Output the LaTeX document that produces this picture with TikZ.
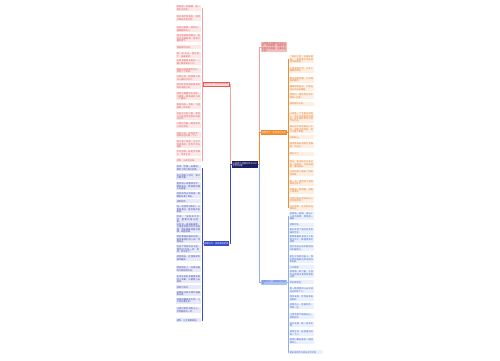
\documentclass[tikz,border=0pt]{standalone}
\usepackage{fontspec}
\newfontfamily\cjk{Noto Sans CJK SC}
\XeTeXlinebreaklocale "zh"
\XeTeXlinebreakskip = 0pt plus 1pt
\definecolor{pinkL}{HTML}{FCE8E8}
\definecolor{pinkT}{HTML}{E05A5A}
\definecolor{pinkB}{HTML}{FBD3D3}
\definecolor{pinkLine}{HTML}{EFA3A3}
\definecolor{blueL}{HTML}{E7E9F8}
\definecolor{blueT}{HTML}{3A47B0}
\definecolor{blueB}{HTML}{3B4CC8}
\definecolor{orL}{HTML}{FDEFE3}
\definecolor{orT}{HTML}{E67A28}
\definecolor{orB}{HTML}{F28A2E}
\definecolor{ltL}{HTML}{EAF0FC}
\definecolor{ltT}{HTML}{3E68C8}
\definecolor{ltB}{HTML}{A9C2F2}
\definecolor{ltLine}{HTML}{8FAEEA}
\definecolor{navy}{HTML}{1C1F5E}
\tikzset{
  leaf/.style={anchor=north west, inner sep=0.6bp, text width=24bp, align=left,
    font=\cjk\fontsize{2.2}{2.45}\selectfont},
  pinkleaf/.style={leaf, fill=pinkL, text=pinkT},
  blueleaf/.style={leaf, fill=blueL, text=blueT},
  orleaf/.style={leaf, fill=orL, text=orT},
  ltleaf/.style={leaf, fill=ltL, text=ltT},
  branch/.style={inner sep=0.6bp, text width=24.5bp, align=left,
    font=\cjk\fontsize{2.2}{2.45}\selectfont},
  conn/.style={line width=0.5bp},
}
\begin{document}
\begin{tikzpicture}[x=1bp,y=-1bp]
\useasboundingbox[fill=white] (0,0) rectangle (500,360);

% centre
\node[branch, fill=navy, text=white, minimum height=7bp, text width=24.8bp] (c) at (245,164.5)
  {以感恩为话题的作文800字范文8篇};

% branches
\node[branch, fill=pinkB, draw=pinkT, line width=0.4bp, text=pinkT, minimum height=4.4bp] (b1) at (216.5,84)
  {感恩作文：感恩母亲的爱};
\node[branch, fill=blueB, text=white, minimum height=4.6bp] (b2) at (216.5,243.5)
  {感恩作文：感恩我的老师};
\node[branch, fill=pinkB!80!pinkT, text=pinkT!80!black, minimum height=10bp] (r1) at (274,47)
  {以感恩为话题的作文800字：学会感恩，感恩生活中的点点滴滴，让爱永驻心间。};
\node[branch, fill=orB, text=white, minimum height=4.6bp] (r2) at (274,132.5)
  {感恩作文：感恩我的父亲};
\node[branch, fill=ltB, text=ltT, minimum height=4.6bp] (r3) at (274,282.5)
  {感恩作文：感恩我们的社会};

% centre connectors
\draw[conn, pinkLine] (c.west) -- ++(-1.2,0) |- (b1.east);
\draw[conn, blueB] (c.west) -- ++(-1.2,0) |- (b2.east);
\draw[conn, pinkLine] (c.east) -- ++(1.2,0) |- (r1.west);
\draw[conn, orB] (c.east) -- ++(1.2,0) |- (r2.west);
\draw[conn, ltLine] (c.east) -- ++(1.2,0) |- (r3.west);

% left branch 1 leaves
\foreach \t/\b/\s [count=\i] in {
  5/11/{感恩是一种美德，是一种生活态度。},
  15/21/{我们要学会感恩，感恩父母的养育之恩。},
  26/32/{母亲的爱像一缕阳光，温暖着我的心。},
  34/42/{每当我遇到困难时，妈妈总会鼓励我，给我力量和勇气。},
  45/49/{我爱我的妈妈。},
  52/57.5/{那一年冬天，我生病了，发着高烧。},
  59/65/{妈妈背着我去医院，一路上跑得满头大汗。},
  67.5/73/{看着妈妈疲惫的样子，我流下了眼泪。},
  75/81/{从那以后，我暗暗下定决心要好好学习。},
  83/89/{用优异的成绩来报答妈妈的辛勤付出。},
  92/100/{感恩不需要惊天动地，只需要一颗真诚的心和一个拥抱。},
  103/108.5/{帮妈妈洗一次脚，为爸爸倒一杯热茶。},
  112/120/{这些平凡的小事，却能让父母感受到我们的爱与关怀。},
  122/128/{让我们怀着一颗感恩的心去生活吧。},
  131.5/137.5/{感恩父母，感恩老师，感恩身边的每一个人。},
  140/148/{因为有了感恩，生活才会更美好，世界才会充满爱。},
  150/156/{学会感恩，就是学会做人，学会生活。},
  158/162/{感恩，从现在开始。}} {
  \node[pinkleaf, minimum height={(\b-\t)*1bp}] (p\i) at (176,\t) {\s};
  \draw[conn, pinkLine] (b1.west) -- ++(-1.3,0) |- (p\i.east);
}

% left branch 2 leaves
\foreach \t/\b/\s [count=\i] in {
  165/171/{老师，您像一支蜡烛，照亮了我们前行的路。},
  173/179.5/{还记得刚上学时，我什么都不懂。},
  182/190/{是您耐心地教我写字，教我读书，教我明白做人的道理。},
  192/197.5/{您批改作业到深夜，眼睛里布满了血丝。},
  199/203/{感恩老师。},
  205/213/{有一次我考试失利，心里很难过，是您轻声安慰我。},
  215/221/{您说：“失败并不可怕，重要的是站起来。”},
  222.5/233/{这句话一直激励着我，让我遇到挫折时不再退缩，而是勇敢地面对困难，战胜困难。},
  235/243/{您的教诲如春风化雨，滋润着我们的心田，伴我成长。},
  245/253/{在这个特别的日子里，我想对您说一声：老师，您辛苦了！},
  255/261/{感恩朋友，在我孤单时陪伴着我。},
  266/272/{感恩陌生人，在我迷路时为我指明方向。},
  275/283/{生活中处处有值得感恩的人和事，只要用心去发现。},
  285/289/{感恩大自然。},
  290.5/296/{感谢阳光给予我们温暖和光明。},
  297.5/303.5/{感谢雨露滋润万物，让大地充满生机。},
  307/313/{让我们常怀感恩之心，珍惜拥有的一切。},
  318/322/{感恩，让生命更美丽。}} {
  \node[blueleaf, minimum height={(\b-\t)*1bp}] (q\i) at (176,\t) {\s};
  \draw[conn, blueB] (b2.west) -- ++(-1.3,0) |- (q\i.east);
}

% right branch 2 leaves
\foreach \t/\b/\s [count=\i] in {
  55/63/{“滴水之恩，当涌泉相报。”感恩是中华民族的传统美德。},
  66.5/72.5/{小草感恩大地，才有了满眼的绿色。},
  76.5/82.5/{鲜花感恩雨露，才开得如此鲜艳。},
  85/91/{雄鹰感恩蓝天，才能在天空中自由翱翔。},
  93/98/{而我们，要感恩生命中的每一份爱。},
  101.5/105.5/{感恩我的父亲。},
  112/122.5/{父亲是一个不善言辞的人，他从不把爱挂在嘴边，却总是默默地为这个家付出。},
  125/133/{每天天不亮他就出门工作，很晚才回到家，脸上写满了疲惫。},
  135/139/{父爱如山。},
  142/148/{他用宽阔的肩膀为我撑起一片天空。},
  151.5/155.5/{我长大了。},
  160/168/{现在，我也能为父亲分担一些家务，为他捶捶背，陪他聊天。},
  170/176/{父亲的脸上露出了欣慰的笑容。},
  179.5/185.5/{那一刻，我明白了感恩的真正含义。},
  187.5/193.5/{感恩是一种回报，更是一种责任。},
  196.5/202.5/{让我们用行动去表达心中的感恩吧！},
  204.5/210.5/{心存感恩，生活处处充满阳光。}} {
  \node[orleaf, minimum height={(\b-\t)*1bp}] (o\i) at (289,\t) {\s};
  \draw[conn, orB] (r2.east) -- ++(1.2,0) |- (o\i.west);
}

% right branch 3 leaves
\foreach \t/\b/\s [count=\i] in {
  212/220/{感恩是一首歌，唱出了人间的真情；感恩是一幅画。},
  222.5/226.5/{感恩社会。},
  228/233.5/{是社会给了我们安定幸福的生活。},
  235/243/{默默奉献的清洁工人和医生护士，都值得我们感恩。},
  245/250.5/{他们用自己的辛勤劳动守护着我们。},
  255/263/{走在干净的街道上，我总会想起那些早出晚归的身影。},
  265/269/{心怀感恩。},
  270/278/{感恩是一种力量，让我们在困境中看到希望和光明。},
  280/284/{学会感恩吧。},
  287/293/{用一颗感恩的心去对待身边的每个人。},
  295/300.5/{你会发现，世界原来如此美好。},
  303/308.5/{感恩的心，感谢有你，伴我一生。},
  313/318.5/{让我有勇气做我自己，感恩有你。},
  321.5/327/{花开花落，我一样会珍惜。},
  330/335.5/{感恩生活，感恩遇见的每一个人。},
  338/343.5/{愿我们都能拥有一颗感恩的心。}} {
  \node[ltleaf, minimum height={(\b-\t)*1bp}] (s\i) at (289,\t) {\s};
  \draw[conn, ltLine] (r3.east) -- ++(1.2,0) |- (s\i.west);
}
\node[ltleaf, text width=33bp, minimum height=4bp] (s17) at (289,350) {更多感恩作文请关注作文网};
\draw[conn, ltLine] (r3.east) -- ++(1.2,0) |- (s17.west);
\end{tikzpicture}
\end{document}
